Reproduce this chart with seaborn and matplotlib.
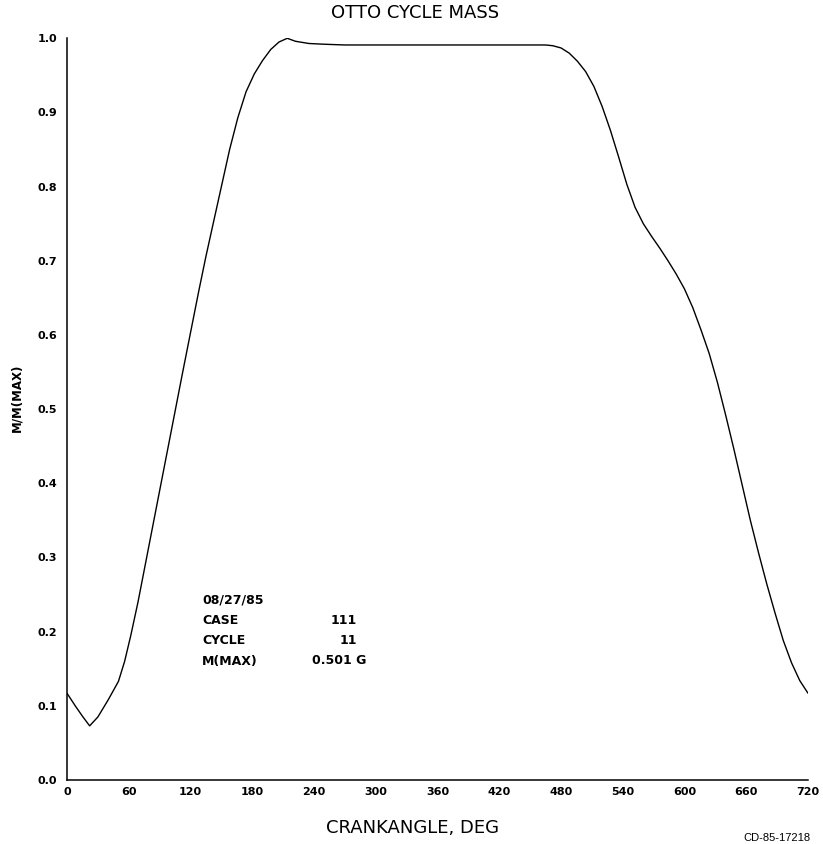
import matplotlib
matplotlib.use("Agg")
import matplotlib.pyplot as plt
import seaborn as sns
import pandas as pd

# Otto cycle in-cylinder mass, normalised by its maximum, over one 720-deg cycle
crank_angle = [0, 8, 15, 22, 30, 40, 50, 56, 62, 69,
               76, 83, 90, 98, 105, 112, 121, 128, 135, 142,
               150, 158, 166, 174, 182, 190, 198, 206, 214, 222,
               235, 250, 270, 300, 360, 420, 465, 472, 480, 488,
               496, 504, 512, 520, 528, 536, 544, 552, 560, 568,
               576, 584, 592, 600, 608, 616, 624, 632, 640, 648,
               656, 664, 672, 680, 688, 696, 704, 712, 720]
mass_ratio = [0.117, 0.100, 0.086, 0.073, 0.085, 0.108, 0.133, 0.160, 0.195, 0.240,
              0.290, 0.340, 0.390, 0.447, 0.497, 0.547, 0.610, 0.659, 0.706, 0.750,
              0.800, 0.850, 0.893, 0.928, 0.952, 0.970, 0.985, 0.995, 1.000, 0.996,
              0.993, 0.992, 0.991, 0.991, 0.991, 0.991, 0.991, 0.990, 0.987, 0.980,
              0.969, 0.955, 0.935, 0.908, 0.876, 0.840, 0.803, 0.772, 0.750, 0.733,
              0.717, 0.700, 0.682, 0.662, 0.637, 0.607, 0.575, 0.536, 0.492, 0.446,
              0.398, 0.350, 0.306, 0.264, 0.225, 0.188, 0.158, 0.134, 0.117]

x_ticks = list(range(0, 721, 60))
y_ticks = [i / 10 for i in range(11)]

info_labels = ["CASE", "CYCLE", "M(MAX)"]
info_values = ["111", "11"]
run_date = "08/27/85"
max_mass = "0.501 G"

df = pd.DataFrame({"crank": crank_angle, "mass": mass_ratio})

sns.set_theme(style="white")
plt.rcParams["font.family"] = ["DejaVu Sans"]

W, H = 823, 844
fig = plt.figure(figsize=(W / 100, H / 100), dpi=100)
ax = fig.add_axes([67 / W, 64 / H, 741 / W, 741.7 / H])

sns.lineplot(data=df, x="crank", y="mass", color="black", linewidth=1.0,
             estimator=None, sort=False, ax=ax)

ax.set_xlim(0, 720)
ax.set_ylim(0, 1.0)
ax.set_xticks(x_ticks)
ax.set_xticklabels([str(t) for t in x_ticks])
ax.set_yticks(y_ticks)
ax.set_yticklabels([f"{t:.1f}" for t in y_ticks])
ax.tick_params(axis="both", direction="in", length=8, width=1.0, color="black",
               labelsize=8, labelcolor="black")
ax.tick_params(axis="x", pad=5)
ax.tick_params(axis="y", pad=7)
for lbl in ax.get_xticklabels() + ax.get_yticklabels():
    lbl.set_fontweight("bold")

for side in ["top", "right"]:
    ax.spines[side].set_visible(False)
for side in ["left", "bottom"]:
    ax.spines[side].set_color("black")
    ax.spines[side].set_linewidth(1.1)
ax.set_xlabel("")
ax.set_ylabel("")


def fx(px):
    return px / W


def fy(py):
    return 1 - py / H


fig.text(fx(415), fy(13), "OTTO CYCLE MASS", ha="center", va="center",
         fontsize=13, color="black")
fig.text(fx(413), fy(828), "CRANKANGLE, DEG", ha="center", va="center",
         fontsize=13, color="black")
fig.text(fx(17), fy(398), "M/M(MAX)", ha="center", va="center", rotation=90,
         fontsize=8.5, fontweight="bold", color="black")
fig.text(fx(810), fy(838), "CD-85-17218", ha="right", va="center",
         fontsize=8, family=["Liberation Sans"], color="black")

# run information block
rows_y = [600, 620, 641, 661]
fig.text(fx(202), fy(rows_y[0]), run_date, ha="left", va="center",
         fontsize=9, fontweight="bold", color="black")
for lab, ry in zip(info_labels, rows_y[1:]):
    fig.text(fx(202), fy(ry), lab, ha="left", va="center",
             fontsize=9, fontweight="bold", color="black")
for val, ry in zip(info_values, rows_y[1:3]):
    fig.text(fx(357), fy(ry), val, ha="right", va="center",
             fontsize=9, fontweight="bold", color="black")
fig.text(fx(312), fy(rows_y[3]), max_mass, ha="left", va="center",
         fontsize=9, fontweight="bold", color="black")

fig.savefig("out.png", dpi=100)
